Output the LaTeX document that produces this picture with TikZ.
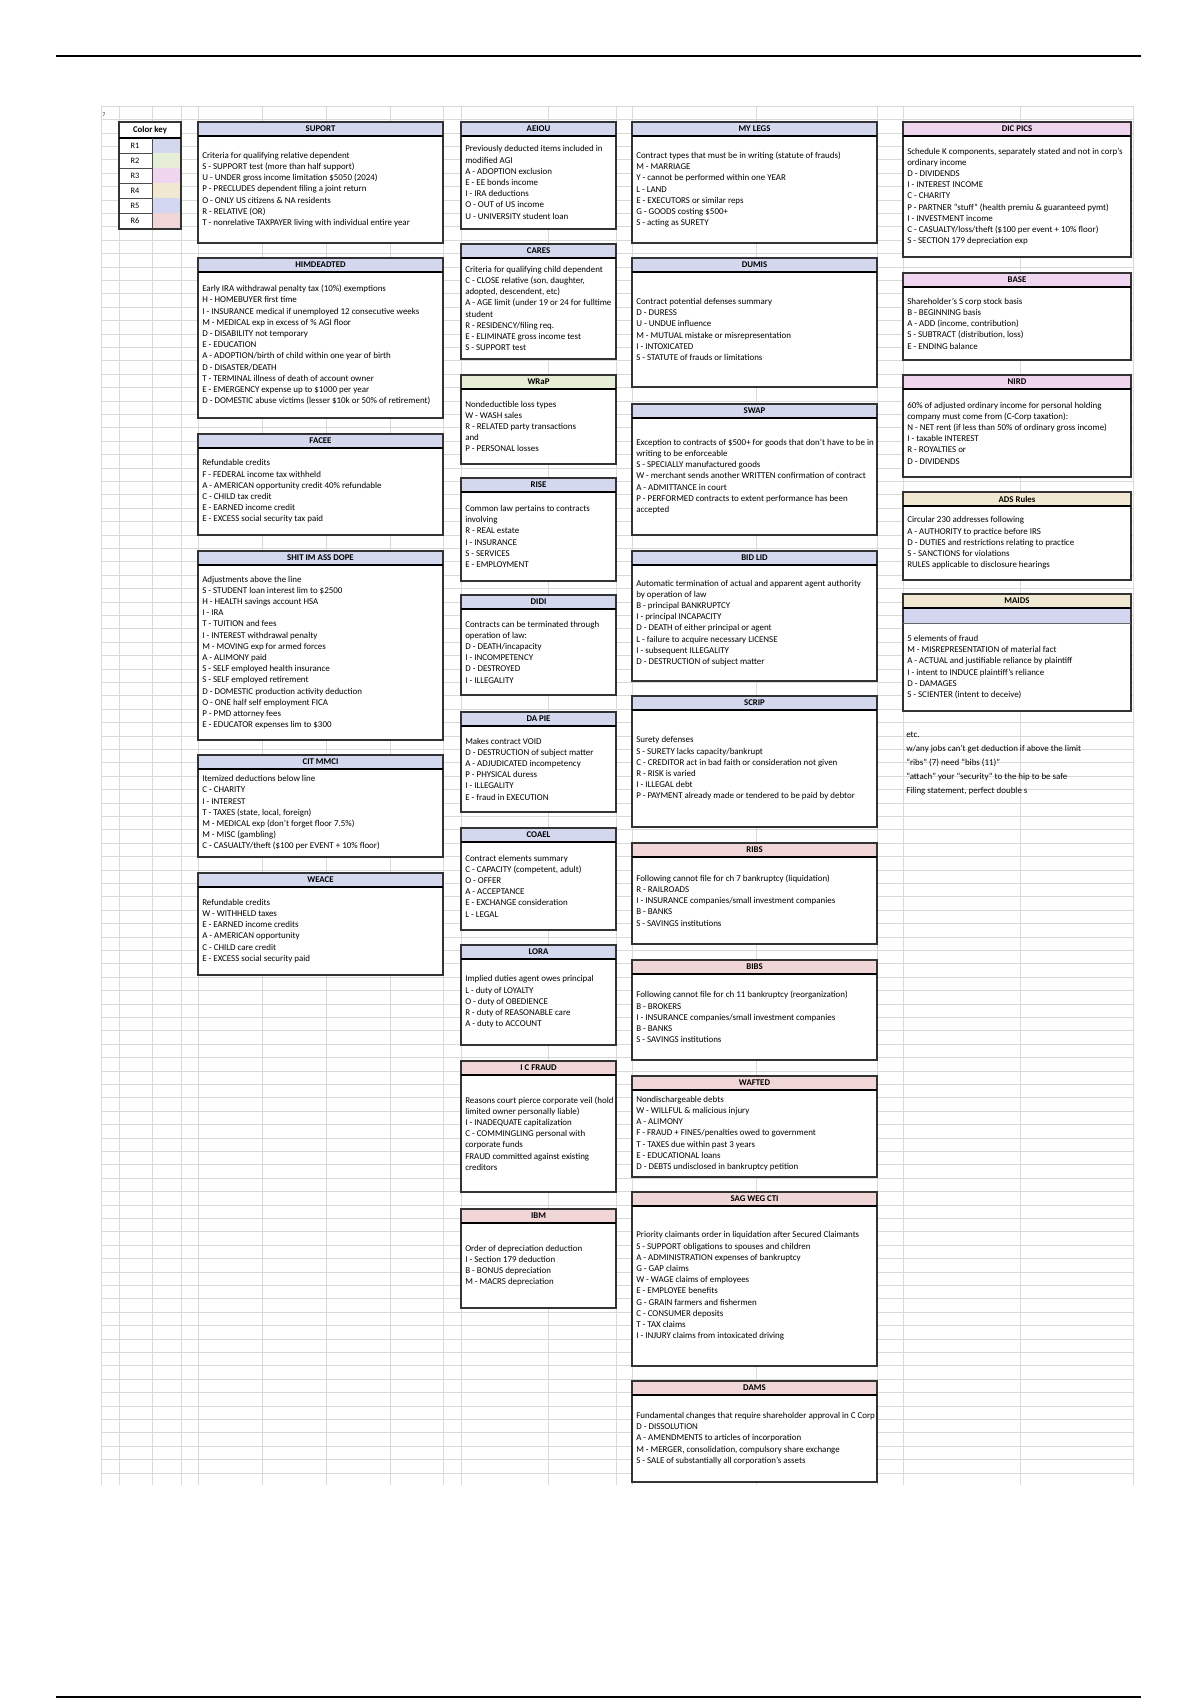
\documentclass[tikz,border=0pt]{standalone}
\usepackage{fontspec}
\setmainfont{Carlito}
\usepackage{tikz}

\definecolor{rOne}{HTML}{D4D8EF}
\definecolor{rTwo}{HTML}{E6EED5}
\definecolor{rThree}{HTML}{EFD6EE}
\definecolor{rFour}{HTML}{F0E8D0}
\definecolor{rFive}{HTML}{D3D6F1}
\definecolor{rSix}{HTML}{F1D6D7}

% one mnemonic box: name, x1, y1, x2, y2, header colour, title, body
\newcommand{\mnembox}[8]{%
  \fill[white] (#2,#3) rectangle (#4,#5);
  \fill[#6] (#2,#3) rectangle (#4,#3+14);
  \draw[boxline] (#2,#3) rectangle (#4,#5);
  \draw[headrule] (#2,#3+14) -- (#4,#3+14);
  \node[boxtitle] (#1) at ({(#2+#4)/2},{#3+7}) {#7};
  \node[boxbody] (#1-body) at ({#2+4},{(#3+14+#5)/2}) {#8};
}

\begin{document}
\begin{tikzpicture}[x=0.75pt,y=-0.75pt,
    boxline/.style={draw=black!80, line width=0.9pt},
    headrule/.style={draw=black, line width=1.2pt},
    boxtitle/.style={font=\bfseries\fontsize{6.6}{7.5}\selectfont, inner sep=0pt},
    boxbody/.style={anchor=west, align=left, inner sep=0pt, font=\fontsize{6.7}{8.4}\selectfont},
    notetext/.style={anchor=west, inner sep=0pt, font=\fontsize{6.7}{8}\selectfont},
    gridline/.style={draw=black!15, line width=0.4pt}]
\useasboundingbox (0,0) rectangle (1200,1700);

% page rules
\draw[line width=1.1pt] (56,56) -- (1141,56);
\draw[line width=1.1pt] (56,1697) -- (1141,1697);

% spreadsheet grid
\foreach \k in {0,...,102}
  \draw[gridline] (101,{106+\k*13.4}) -- (1133,{106+\k*13.4});
\foreach \gx in {101,119,152,181,198,262,326,390,443,461,548,616,632,756,877,903,1020,1133}
  \draw[gridline] (\gx,106) -- (\gx,1485);

\node[inner sep=0pt, font=\fontsize{4}{5}\selectfont] (corner) at (104,115) {7};

% colour key
\fill[white] (119,122) rectangle (181,229);
\foreach \c [count=\i] in {rOne,rTwo,rThree,rFour,rFive,rSix} {
  \fill[\c] (152,{138+(\i-1)*15}) rectangle (181,{153+(\i-1)*15});
  \draw[black!70, line width=0.5pt] (119,{153+(\i-1)*15}) -- (181,{153+(\i-1)*15});
  \node[inner sep=0pt, font=\fontsize{6.2}{7}\selectfont] (key\i) at (135,{145.5+(\i-1)*15}) {R\i};
}
\draw[boxline] (119,122) rectangle (181,229);
\draw[headrule] (119,138) -- (181,138);
\draw[black!70, line width=0.5pt] (152,138) -- (152,229);
\node[boxtitle] (keyhead) at (150,130) {Color key};

% column 1
\mnembox{suport}{198}{122}{443}{243}{rOne}{SUPORT}{Criteria for qualifying relative dependent\\
S - SUPPORT test (more than half support)\\
U - UNDER gross income limitation \$5050 (2024)\\
P - PRECLUDES dependent filing a joint return\\
O - ONLY US citizens \& NA residents\\
R - RELATIVE (OR)\\
T - nonrelative TAXPAYER living with individual entire year}

\mnembox{himdeadted}{198}{258}{443}{418}{rOne}{HIMDEADTED}{Early IRA withdrawal penalty tax (10\%) exemptions\\
H - HOMEBUYER first time\\
I - INSURANCE medical if unemployed 12 consecutive weeks\\
M - MEDICAL exp in excess of \% AGI floor\\
D - DISABILITY not temporary\\
E - EDUCATION\\
A - ADOPTION/birth of child within one year of birth\\
D - DISASTER/DEATH\\
T - TERMINAL illness of death of account owner\\
E - EMERGENCY expense up to \$1000 per year\\
D - DOMESTIC abuse victims (lesser \$10k or 50\% of retirement)}

\mnembox{facee}{198}{434}{443}{535}{rOne}{FACEE}{Refundable credits\\
F - FEDERAL income tax withheld\\
A - AMERICAN opportunity credit 40\% refundable\\
C - CHILD tax credit\\
E - EARNED income credit\\
E - EXCESS social security tax paid}

\mnembox{shit}{198}{551}{443}{740}{rOne}{SHIT IM ASS DOPE}{Adjustments above the line\\
S - STUDENT loan interest lim to \$2500\\
H - HEALTH savings account HSA\\
I - IRA\\
T - TUITION and fees\\
I - INTEREST withdrawal penalty\\
M - MOVING exp for armed forces\\
A - ALIMONY paid\\
S - SELF employed health insurance\\
S - SELF employed retirement\\
D - DOMESTIC production activity deduction\\
O - ONE half self employment FICA\\
P - PMD attorney fees\\
E - EDUCATOR expenses lim to \$300}

\mnembox{citmmci}{198}{755}{443}{857}{rOne}{CIT MMCI}{Itemized deductions below line\\
C - CHARITY\\
I - INTEREST\\
T - TAXES (state, local, foreign)\\
M - MEDICAL exp (don't forget floor 7.5\%)\\
M - MISC (gambling)\\
C - CASUALTY/theft (\$100 per EVENT + 10\% floor)}

\mnembox{weace}{198}{873}{443}{975}{rOne}{WEACE}{Refundable credits\\
W - WITHHELD taxes\\
E - EARNED income credits\\
A - AMERICAN opportunity\\
C - CHILD care credit\\
E - EXCESS social security paid}

% column 2
\mnembox{aeiou}{461}{122}{616}{229}{rOne}{AEIOU}{Previously deducted items included in\\
modified AGI\\
A - ADOPTION exclusion\\
E - EE bonds income\\
I - IRA deductions\\
O - OUT of US income\\
U - UNIVERSITY student loan}

\mnembox{cares}{461}{244}{616}{359}{rOne}{CARES}{Criteria for qualifying child dependent\\
C - CLOSE relative (son, daughter,\\
adopted, descendent, etc)\\
A - AGE limit (under 19 or 24 for fulltime\\
student\\
R - RESIDENCY/filing req.\\
E - ELIMINATE gross income test\\
S - SUPPORT test}

\mnembox{wrap}{461}{375}{616}{464}{rTwo}{WRaP}{Nondeductible loss types\\
W - WASH sales\\
R - RELATED party transactions\\
and\\
P - PERSONAL losses}

\mnembox{rise}{461}{478}{616}{581}{rOne}{RISE}{Common law pertains to contracts\\
involving\\
R - REAL estate\\
I - INSURANCE\\
S - SERVICES\\
E - EMPLOYMENT}

\mnembox{didi}{461}{595}{616}{695}{rOne}{DIDI}{Contracts can be terminated through\\
operation of law:\\
D - DEATH/incapacity\\
I - INCOMPETENCY\\
D - DESTROYED\\
I - ILLEGALITY}

\mnembox{dapie}{461}{712}{616}{812}{rOne}{DA PIE}{Makes contract VOID\\
D - DESTRUCTION of subject matter\\
A - ADJUDICATED incompetency\\
P - PHYSICAL duress\\
I - ILLEGALITY\\
E - fraud in EXECUTION}

\mnembox{coael}{461}{828}{616}{930}{rOne}{COAEL}{Contract elements summary\\
C - CAPACITY (competent, adult)\\
O - OFFER\\
A - ACCEPTANCE\\
E - EXCHANGE consideration\\
L - LEGAL}

\mnembox{lora}{461}{945}{616}{1045}{rOne}{LORA}{Implied duties agent owes principal\\
L - duty of LOYALTY\\
O - duty of OBEDIENCE\\
R - duty of REASONABLE care\\
A - duty to ACCOUNT}

\mnembox{icfraud}{461}{1061}{616}{1192}{rSix}{I C FRAUD}{Reasons court pierce corporate veil (hold\\
limited owner personally liable)\\
I - INADEQUATE capitalization\\
C - COMMINGLING personal with\\
corporate funds\\
FRAUD committed against existing\\
creditors}

\mnembox{ibm}{461}{1209}{616}{1308}{rSix}{IBM}{Order of depreciation deduction\\
I - Section 179 deduction\\
B - BONUS depreciation\\
M - MACRS depreciation}

% column 3
\mnembox{mylegs}{632}{122}{877}{243}{rOne}{MY LEGS}{Contract types that must be in writing (statute of frauds)\\
M - MARRIAGE\\
Y - cannot be performed within one YEAR\\
L - LAND\\
E - EXECUTORS or similar reps\\
G - GOODS costing \$500+\\
S - acting as SURETY}

\mnembox{dumis}{632}{258}{877}{387}{rOne}{DUMIS}{Contract potential defenses summary\\
D - DURESS\\
U - UNDUE influence\\
M - MUTUAL mistake or misrepresentation\\
I - INTOXICATED\\
S - STATUTE of frauds or limitations}

\mnembox{swap}{632}{404}{877}{535}{rOne}{SWAP}{Exception to contracts of \$500+ for goods that don't have to be in\\
writing to be enforceable\\
S - SPECIALLY manufactured goods\\
W - merchant sends another WRITTEN confirmation of contract\\
A - ADMITTANCE in court\\
P - PERFORMED contracts to extent performance has been\\
accepted}

\mnembox{bidlid}{632}{551}{877}{681}{rOne}{BID LID}{Automatic termination of actual and apparent agent authority\\
by operation of law\\
B - principal BANKRUPTCY\\
I - principal INCAPACITY\\
D - DEATH of either principal or agent\\
L - failure to acquire necessary LICENSE\\
I - subsequent ILLEGALITY\\
D - DESTRUCTION of subject matter}

\mnembox{scrip}{632}{696}{877}{827}{rOne}{SCRIP}{Surety defenses\\
S - SURETY lacks capacity/bankrupt\\
C - CREDITOR act in bad faith or consideration not given\\
R - RISK is varied\\
I - ILLEGAL debt\\
P - PAYMENT already made or tendered to be paid by debtor}

\mnembox{ribs}{632}{843}{877}{944}{rSix}{RIBS}{Following cannot file for ch 7 bankruptcy (liquidation)\\
R - RAILROADS\\
I - INSURANCE companies/small investment companies\\
B - BANKS\\
S - SAVINGS institutions}

\mnembox{bibs}{632}{960}{877}{1060}{rSix}{BIBS}{Following cannot file for ch 11 bankruptcy (reorganization)\\
B - BROKERS\\
I - INSURANCE companies/small investment companies\\
B - BANKS\\
S - SAVINGS institutions}

\mnembox{wafted}{632}{1076}{877}{1177}{rSix}{WAFTED}{Nondischargeable debts\\
W - WILLFUL \& malicious injury\\
A - ALIMONY\\
F - FRAUD + FINES/penalties owed to government\\
T - TAXES due within past 3 years\\
E - EDUCATIONAL loans\\
D - DEBTS undisclosed in bankruptcy petition}

\mnembox{sagweg}{632}{1192}{877}{1366}{rSix}{SAG WEG CTI}{Priority claimants order in liquidation after Secured Claimants\\
S - SUPPORT obligations to spouses and children\\
A - ADMINISTRATION expenses of bankruptcy\\
G - GAP claims\\
W - WAGE claims of employees\\
E - EMPLOYEE benefits\\
G - GRAIN farmers and fishermen\\
C - CONSUMER deposits\\
T - TAX claims\\
I - INJURY claims from intoxicated driving}

\mnembox{dams}{632}{1381}{877}{1482}{rSix}{DAMS}{Fundamental changes that require shareholder approval in C Corp\\
D - DISSOLUTION\\
A - AMENDMENTS to articles of incorporation\\
M - MERGER, consolidation, compulsory share exchange\\
S - SALE of substantially all corporation's assets}

% column 4
\mnembox{dicpics}{903}{122}{1131}{257}{rThree}{DIC PICS}{Schedule K components, separately stated and not in corp's\\
ordinary income\\
D - DIVIDENDS\\
I - INTEREST INCOME\\
C - CHARITY\\
P - PARTNER ``stuff'' (health premiu \& guaranteed pymt)\\
I - INVESTMENT income\\
C - CASUALTY/loss/theft (\$100 per event + 10\% floor)\\
S - SECTION 179 depreciation exp}

\mnembox{base}{903}{273}{1131}{360}{rThree}{BASE}{Shareholder's S corp stock basis\\
B - BEGINNING basis\\
A - ADD (income, contribution)\\
S - SUBTRACT (distribution, loss)\\
E - ENDING balance}

\mnembox{nird}{903}{375}{1131}{477}{rThree}{NIRD}{60\% of adjusted ordinary income for personal holding\\
company must come from (C-Corp taxation):\\
N - NET rent (if less than 50\% of ordinary gross income)\\
I - taxable INTEREST\\
R - ROYALTIES or\\
D - DIVIDENDS}

\mnembox{ads}{903}{492}{1131}{580}{rFour}{ADS Rules}{Circular 230 addresses following\\
A - AUTHORITY to practice before IRS\\
D - DUTIES and restrictions relating to practice\\
S - SANCTIONS for violations\\
RULES applicable to disclosure hearings}

% MAIDS has an extra blue band under its header
\fill[white] (903,594) rectangle (1131,711);
\fill[rFour] (903,594) rectangle (1131,608);
\fill[rFive] (903,608) rectangle (1131,623);
\draw[boxline] (903,594) rectangle (1131,711);
\draw[headrule] (903,608) -- (1131,608);
\draw[black!60, line width=0.6pt] (903,623) -- (1131,623);
\node[boxtitle] (maids) at (1017,601) {MAIDS};
\node[boxbody] (maids-body) at (907,667) {5 elements of fraud\\
M - MISREPRESENTATION of material fact\\
A - ACTUAL and justifiable reliance by plaintiff\\
I - intent to INDUCE plaintiff's reliance\\
D - DAMAGES\\
S - SCIENTER (intent to deceive)};

% notes below
\node[notetext] (note1) at (906,735) {etc.};
\node[notetext] (note2) at (906,749) {w/any jobs can't get deduction if above the limit};
\node[notetext] (note3) at (906,763) {``ribs'' (7) need ``bibs (11)''};
\node[notetext] (note4) at (906,777) {``attach'' your ``security'' to the hip to be safe};
\node[notetext] (note5) at (906,791) {Filing statement, perfect double s};
\end{tikzpicture}
\end{document}
